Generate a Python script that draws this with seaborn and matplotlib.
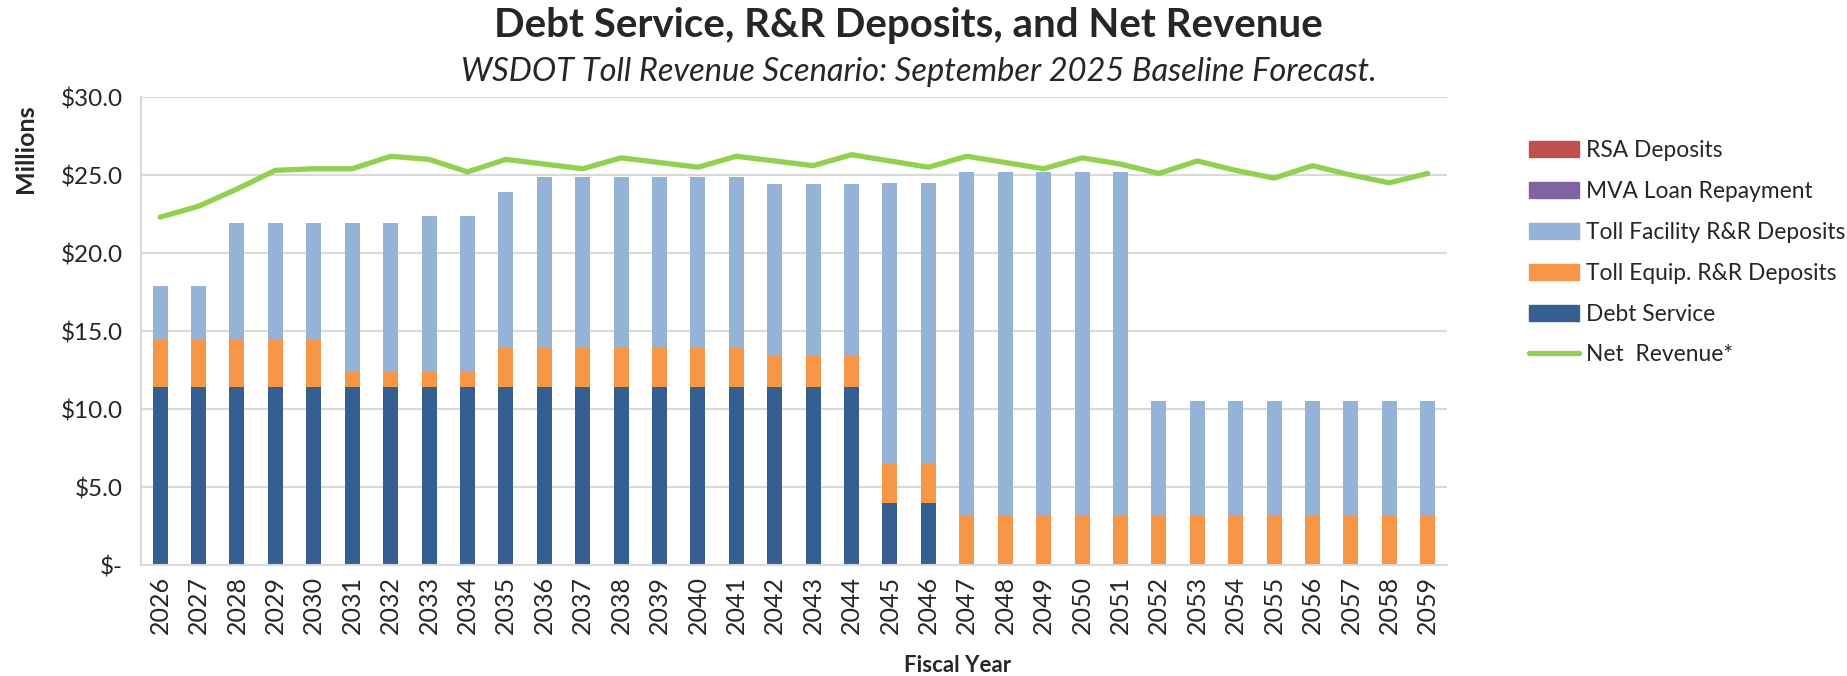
# Debt Service, R&R Deposits, and Net Revenue - stacked bars + net revenue line
import numpy as np
import pandas as pd
import seaborn as sns
import matplotlib.pyplot as plt
from matplotlib.patches import Patch
from matplotlib.lines import Line2D
from matplotlib.ticker import FuncFormatter, FixedLocator

# === Data (millions of $) ===
years = [str(y) for y in range(2026, 2060)]

debt_service = [11.4] * 19 + [4.0, 4.0] + [0.0] * 13
toll_equip = ([3.0] * 5 + [1.0] * 4 + [2.5] * 7 + [2.0] * 3
              + [2.5, 2.5] + [3.2] * 13)
toll_facility_total = ([17.9, 17.9] + [21.9] * 5 + [22.4, 22.4, 23.9]
                       + [24.9] * 6 + [24.4] * 3 + [24.5, 24.5]
                       + [25.2] * 5 + [10.5] * 8)
mva_loan = [0.0] * 34
rsa_deposits = [0.0] * 34
net_revenue = [22.3, 23.0, 24.1, 25.3, 25.4, 25.4, 26.2, 26.0, 25.2, 26.0,
               25.7, 25.4, 26.1, 25.8, 25.5, 26.2, 25.9, 25.6, 26.3, 25.9,
               25.5, 26.2, 25.8, 25.4, 26.1, 25.7, 25.1, 25.9, 25.3, 24.8,
               25.6, 25.0, 24.5, 25.1]

df = pd.DataFrame({
    "year": years,
    "debt": debt_service,
    "equip": toll_equip,
    "top": toll_facility_total,
    "mva": mva_loan,
    "rsa": rsa_deposits,
    "net": net_revenue,
})
df["base_equip"] = df["debt"]
df["base_fac"] = df["debt"] + df["equip"]
df["facility"] = df["top"] - df["base_fac"]

# === Colours ===
c_debt = "#365F91"
c_equip = "#F79646"
c_fac = "#95B3D7"
c_mva = "#8064A2"
c_rsa = "#C0504D"
c_net = "#92D050"

sns.set_style("white")
plt.rcParams["font.family"] = ["Lato", "DejaVu Sans"]

fig = plt.figure(figsize=(18.47, 6.76), dpi=100)
ax = fig.add_axes([0.0763, 0.1642, 0.7071, 0.6923])

bw = 0.39
sns.barplot(data=df, x="year", y="debt", color=c_debt, width=bw,
            errorbar=None, linewidth=0, saturation=1, ax=ax, zorder=2)
sns.barplot(data=df, x="year", y="equip", bottom=df["base_equip"], color=c_equip,
            width=bw, errorbar=None, linewidth=0, saturation=1, ax=ax, zorder=2)
sns.barplot(data=df, x="year", y="facility", bottom=df["base_fac"], color=c_fac,
            width=bw, errorbar=None, linewidth=0, saturation=1, ax=ax, zorder=2)
sns.barplot(data=df, x="year", y="mva", bottom=df["top"], color=c_mva,
            width=bw, errorbar=None, linewidth=0, saturation=1, ax=ax, zorder=2)
sns.barplot(data=df, x="year", y="rsa", bottom=df["top"] + df["mva"], color=c_rsa,
            width=bw, errorbar=None, linewidth=0, saturation=1, ax=ax, zorder=2)
sns.lineplot(x=np.arange(len(years)), y=df["net"], color=c_net, linewidth=3.8,
             ax=ax, zorder=3)

# === Axes styling ===
ax.set_xlim(-0.5, len(years) - 0.5)
ax.set_ylim(0, 30)
ax.set_yticks(np.arange(0, 31, 5))
ax.yaxis.set_major_formatter(FuncFormatter(lambda v, p: "$-" if v == 0 else f"${v:.1f}"))
ax.grid(axis="y", color="#D9D9D9", linewidth=1.5, zorder=0)
ax.set_axisbelow(True)

for s in ["top", "right"]:
    ax.spines[s].set_visible(False)
for s in ["left", "bottom"]:
    ax.spines[s].set_color("#D9D9D9")
    ax.spines[s].set_linewidth(1.5)

ax.tick_params(axis="y", length=7, width=1.5, color="#D9D9D9", labelsize=17.5, pad=6)
ax.tick_params(axis="x", which="major", length=0, labelsize=18, rotation=90, pad=8)
ax.xaxis.set_minor_locator(FixedLocator(np.arange(-0.5, len(years), 1.0)))
ax.tick_params(axis="x", which="minor", length=7, width=1.5, color="#D9D9D9")
ax.set_xlabel("")
ax.set_ylabel("")

# === Titles / labels ===
fig.text(0.4916, 0.962, "Debt Service, R&R Deposits, and Net Revenue",
         ha="center", va="center", fontsize=29, fontweight="bold")
fig.text(0.4976, 0.893, "WSDOT Toll Revenue Scenario: September 2025 Baseline Forecast.",
         ha="center", va="center", fontsize=23.5, fontstyle="italic")
fig.text(0.014, 0.78, "Millions", rotation=90, ha="center", va="center",
         fontsize=18, fontweight="bold")
fig.text(0.5187, 0.016, "Fiscal Year", ha="center", va="center",
         fontsize=16, fontweight="bold")

# === Legend ===
handles = [
    Patch(color=c_rsa, label="RSA Deposits"),
    Patch(color=c_mva, label="MVA Loan Repayment"),
    Patch(color=c_fac, label="Toll Facility R&R Deposits"),
    Patch(color=c_equip, label="Toll Equip. R&R Deposits"),
    Patch(color=c_debt, label="Debt Service"),
    Line2D([0], [0], color=c_net, linewidth=3.8, label="Net  Revenue*"),
]
fig.legend(handles=handles, loc="upper left", bbox_to_anchor=(0.823, 0.806),
           frameon=False, fontsize=16.4, handlelength=2.2, handleheight=0.7,
           handletextpad=0.3, labelspacing=0.87, borderaxespad=0)

plt.savefig("out.png", dpi=100)
